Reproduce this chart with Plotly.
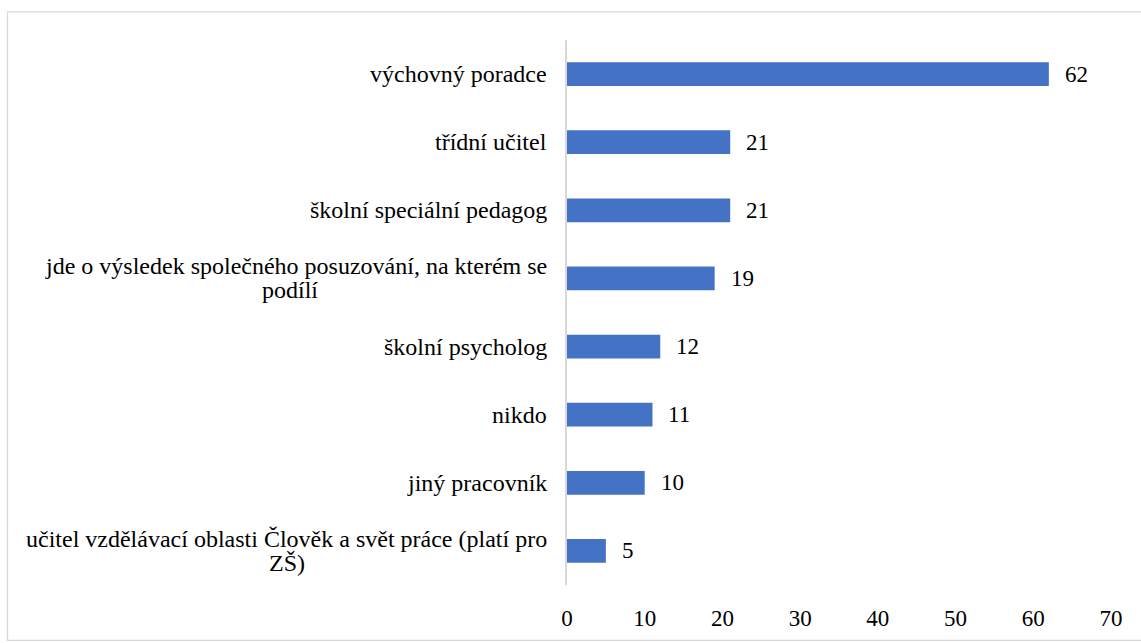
import plotly.graph_objects as go

categories = [
    "výchovný poradce",
    "třídní učitel",
    "školní speciální pedagog",
    "jde o výsledek společného posuzování, na kterém se<br>podílí",
    "školní psycholog",
    "nikdo",
    "jiný pracovník",
    "učitel vzdělávací oblasti Člověk a svět práce (platí pro<br>ZŠ)",
]
values = [62, 21, 21, 19, 12, 11, 10, 5]
x_ticks = [0, 10, 20, 30, 40, 50, 60, 70]

FONT = "Liberation Serif"
FS_LBL = 24
FS_NUM = 23
LINE_GAP = 24
W, H = 1141, 643
L, R, T, B = 567, 30, 40, 51
pw, ph = W - L - R, H - T - B

# horizontal centre (pixels) for the continuation line of wrapped labels
WRAP_CENTER_PX = {3: 290, 7: 287}

fig = go.Figure()
fig.add_trace(go.Bar(
    y=categories, x=values, orientation="h",
    marker=dict(color="#4472C4", line=dict(width=0)),
    hoverinfo="x",
))

for i, (c, v) in enumerate(zip(categories, values)):
    fig.add_annotation(x=v, y=c, xref="x", yref="y", text=str(v), showarrow=False,
                       xanchor="left", xshift=14, font=dict(family=FONT, size=FS_NUM, color="#000000"))
    lines = c.split("<br>")
    if len(lines) == 1:
        fig.add_annotation(x=0, y=c, xref="paper", yref="y", text=lines[0], showarrow=False,
                           xanchor="right", xshift=-18,
                           font=dict(family=FONT, size=FS_LBL, color="#000000"))
    else:
        fig.add_annotation(x=0, y=c, xref="paper", yref="y", text=lines[0], showarrow=False,
                           xanchor="right", xshift=-18, yshift=LINE_GAP / 2,
                           font=dict(family=FONT, size=FS_LBL, color="#000000"))
        fig.add_annotation(x=(WRAP_CENTER_PX[i] - L) / pw, y=c, xref="paper", yref="y",
                           text=lines[1], showarrow=False,
                           xanchor="center", yshift=-LINE_GAP / 2,
                           font=dict(family=FONT, size=FS_LBL, color="#000000"))

# outer frame (light grey)
fig.add_shape(type="rect", xref="paper", yref="paper",
              x0=(7.5 - L) / pw, x1=(W + 5 - L) / pw,
              y0=-(H + 5 - (H - B)) / ph, y1=1 + (T - 11.5) / ph,
              line=dict(color="#d9d9d9", width=1.3), fillcolor="rgba(0,0,0,0)", layer="below")

fig.update_layout(
    width=W, height=H,
    margin=dict(l=L, r=R, t=T, b=B, pad=0),
    paper_bgcolor="#ffffff", plot_bgcolor="#ffffff",
    bargap=0.65, showlegend=False,
    font=dict(family=FONT, size=FS_NUM, color="#000000"),
    xaxis=dict(range=[0, 70], tickvals=x_ticks, showgrid=False, zeroline=False,
               showline=False, ticks="outside", ticklen=12, tickcolor="rgba(0,0,0,0)",
               tickfont=dict(family=FONT, size=FS_NUM, color="#000000"), fixedrange=True),
    yaxis=dict(autorange="reversed", showticklabels=False, showgrid=False, zeroline=False,
               showline=True, linecolor="#d9d9d9", linewidth=1.5, ticks="", fixedrange=True),
)

fig.write_html("out.html", post_script="document.body.style.margin='0';",
               config={"displayModeBar": False})
